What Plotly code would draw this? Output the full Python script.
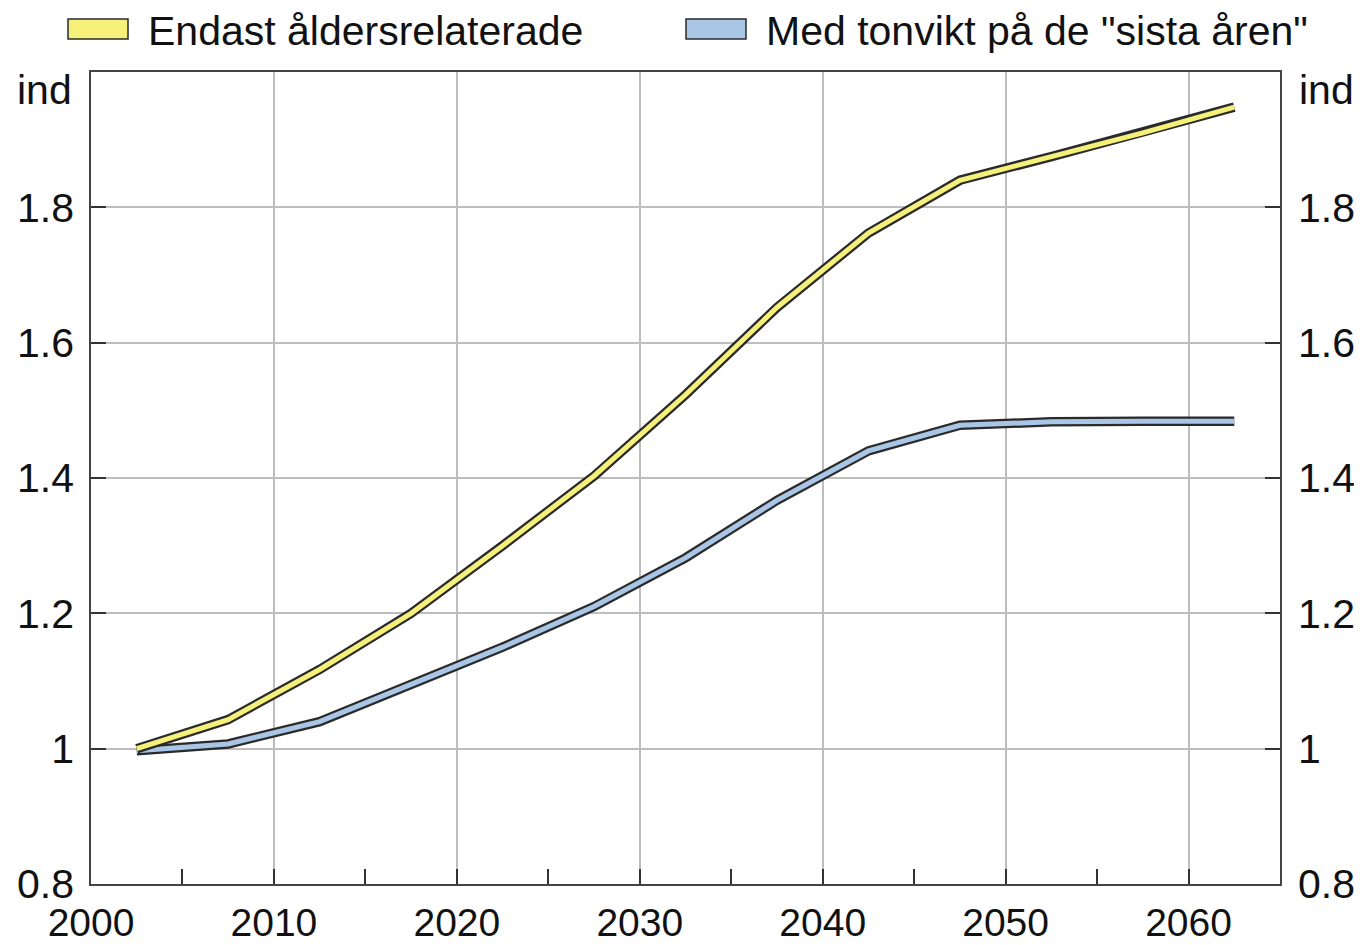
import plotly.graph_objects as go

years = [2002.5, 2007.5, 2012.5, 2017.5, 2022.5, 2027.5, 2032.5, 2037.5, 2042.5, 2047.5, 2052.5, 2057.5, 2062.5]
endast = [1.0, 1.043, 1.117, 1.20, 1.30, 1.403, 1.523, 1.652, 1.762, 1.840, 1.875, 1.910, 1.948]
tonvikt = [0.997, 1.007, 1.040, 1.095, 1.150, 1.210, 1.282, 1.367, 1.440, 1.478, 1.483, 1.484, 1.484]
series_names = ["Endast åldersrelaterade", 'Med tonvikt på de "sista åren"']
series_colors = ["#f4f07a", "#a9c6e6"]
outline = "#2a2a2a"
ytick_vals = [0.8, 1.0, 1.2, 1.4, 1.6, 1.8]
ytick_text = ["0.8", "1", "1.2", "1.4", "1.6", "1.8"]
xtick_vals = [2000, 2010, 2020, 2030, 2040, 2050, 2060]
xtick_text = ["2000", "2010", "2020", "2030", "2040", "2050", "2060"]

FONT = "Liberation Sans, Arial, Helvetica, sans-serif"
FS = 41
XFS = 39
LEG_FS = 41
PAGE_OFF = 8  # default body margin of the html page
W, H = 1362 - PAGE_OFF, 945 - PAGE_OFF
# plot area in page pixels
L, R, T, B = 91, 1280, 72, 884

fig = go.Figure()
for vals, col, name in [(tonvikt, series_colors[1], series_names[1]), (endast, series_colors[0], series_names[0])]:
    fig.add_trace(go.Scatter(x=years, y=vals, mode="lines", line=dict(color=outline, width=9.5),
                             showlegend=False, hoverinfo="skip"))
    fig.add_trace(go.Scatter(x=years, y=vals, mode="lines", line=dict(color=col, width=5),
                             name=name, showlegend=False))
# invisible trace to activate y2
fig.add_trace(go.Scatter(x=[years[0]], y=[endast[0]], yaxis="y2", mode="lines",
                         line=dict(width=0), showlegend=False, hoverinfo="skip"))

def px_x(p):
    return (p - L) / (R - L)

def px_y(p):
    return (B - p) / (B - T)

shapes = [
    dict(type="line", xref="paper", x0=0, x1=1, yref="y", y0=1, y1=1,
         line=dict(color="#222", width=1.5), layer="below"),
]
annotations = []
legend_items = [(68, 146, 0), (686, 764, 1)]
for sx, tx, i in legend_items:
    shapes.append(dict(type="rect", xref="paper", yref="paper",
                       x0=px_x(sx), x1=px_x(sx + 60), y0=px_y(39), y1=px_y(19),
                       fillcolor=series_colors[i], line=dict(color=outline, width=1.5)))
    annotations.append(dict(xref="paper", yref="paper", x=px_x(tx), y=px_y(31),
                            xanchor="left", yanchor="middle", text=series_names[i],
                            showarrow=False, font=dict(family=FONT, size=LEG_FS, color="#111")))
annotations.append(dict(xref="paper", yref="paper", x=px_x(74), y=px_y(90), xanchor="right",
                        yanchor="middle", text="ind", showarrow=False,
                        font=dict(family=FONT, size=FS, color="#111")))
annotations.append(dict(xref="paper", yref="paper", x=px_x(1297), y=px_y(90), xanchor="left",
                        yanchor="middle", text="ind", showarrow=False,
                        font=dict(family=FONT, size=FS, color="#111")))

axis_common = dict(showline=True, linecolor="#444", linewidth=1.5, automargin=False,
                   ticks="inside", ticklen=15, tickwidth=1.5, tickcolor="#333")

fig.update_layout(
    width=W, height=H,
    margin=dict(l=L - PAGE_OFF, r=(W + PAGE_OFF) - R, t=T - PAGE_OFF, b=(H + PAGE_OFF) - B,
                pad=0, autoexpand=False),
    paper_bgcolor="white", plot_bgcolor="white",
    showlegend=False,
    xaxis=dict(range=[2000, 2065], tickvals=xtick_vals, ticktext=xtick_text,
               showgrid=True, gridcolor="#bdbdbd", gridwidth=1.5, mirror=True,
               zeroline=False, ticklabelstandoff=3,
               tickfont=dict(family=FONT, size=XFS, color="#111"),
               minor=dict(dtick=5, tick0=2000, ticks="inside", ticklen=15, tickwidth=1.5,
                          tickcolor="#333", showgrid=False),
               **axis_common),
    yaxis=dict(range=[0.8, 2.0], tickvals=ytick_vals, ticktext=ytick_text,
               showgrid=True, gridcolor="#bdbdbd", gridwidth=1.5, zeroline=False,
               ticklabelstandoff=7, tickfont=dict(family=FONT, size=FS, color="#111"),
               **axis_common),
    yaxis2=dict(range=[0.8, 2.0], tickvals=ytick_vals, ticktext=ytick_text,
                overlaying="y", side="right", showgrid=False, zeroline=False,
                ticklabelstandoff=8, tickfont=dict(family=FONT, size=FS, color="#111"),
                **axis_common),
    shapes=shapes,
    annotations=annotations,
)

fig.write_html("out.html")
